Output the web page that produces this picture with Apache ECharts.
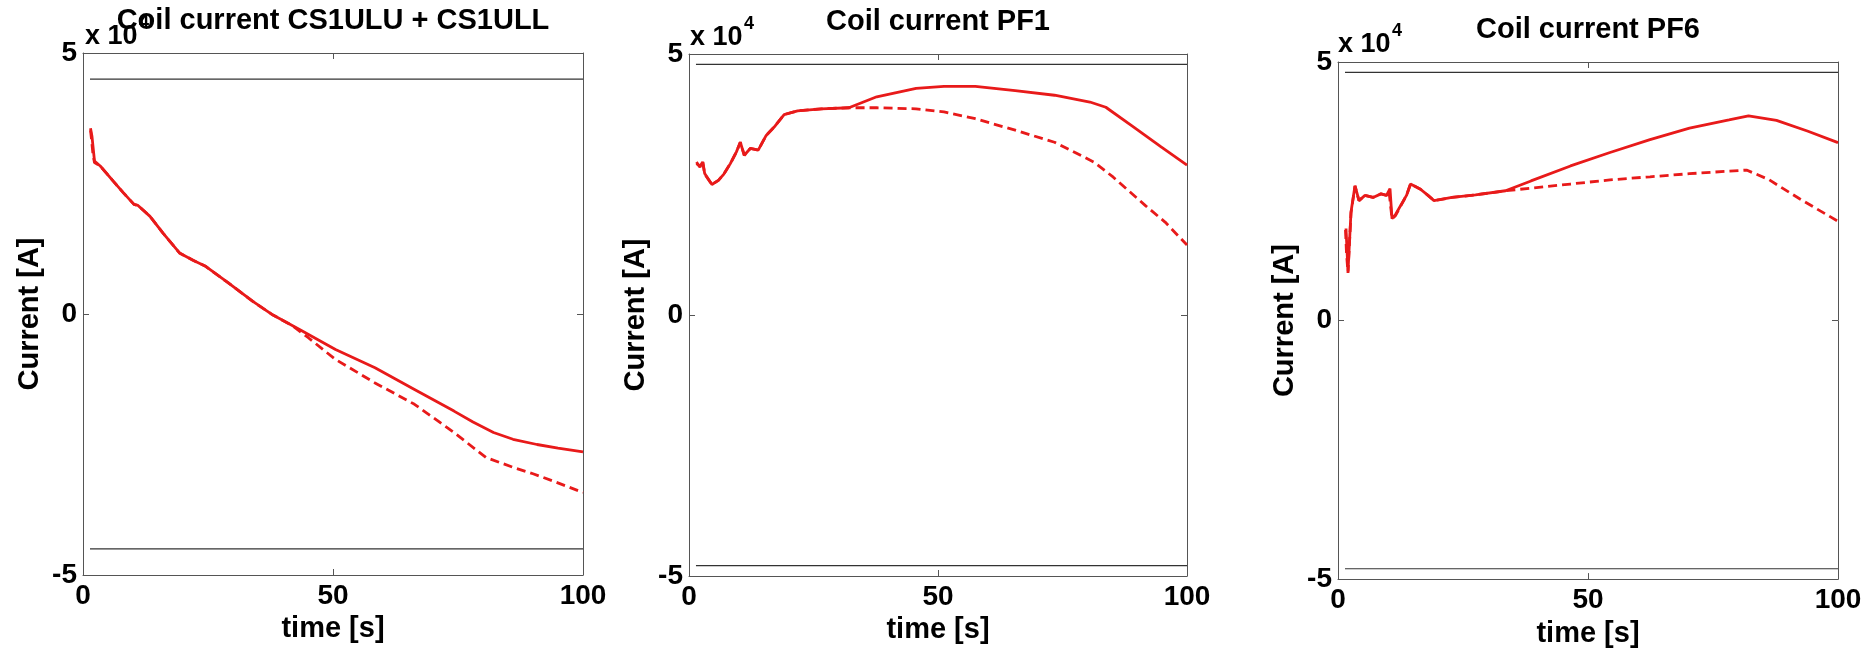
<!DOCTYPE html>
<html><head><meta charset="utf-8">
<script src="https://cdn.jsdelivr.net/npm/echarts@6/dist/echarts.min.js"></script>
<style>html,body{margin:0;padding:0;background:#fff}#c{width:1874px;height:653px}</style>
</head><body><div id="c"></div><script>
// ---------- data (time in s, current in A) ----------
const panelTitles = ['Coil current CS1ULU + CS1ULL', 'Coil current PF1', 'Coil current PF6'];
const xTickLabels = [0, 50, 100];
const yTickLabels = [-5, 0, 5];
const yExponentText = 'x 10';
const yExponent = '4';

const cs1SolidTime = [1.5, 1.8, 2.3, 3.5, 6, 8, 10.2, 11, 13.4, 16, 19.3, 22, 24.4, 29, 33.9, 38, 43.4, 50.5, 58.4, 66.3, 74.2, 78, 82.1, 86, 90.8, 95, 100];
const cs1SolidCurr = [35600, 34000, 29300, 28300, 25500, 23300, 21000, 20800, 18700, 15500, 11700, 10300, 9200, 6000, 2450, -200, -3000, -6800, -10300, -14450, -18600, -20700, -22700, -24000, -25000, -25700, -26400];
const cs1DashTime = [1.5, 1.7, 2.0, 2.3, 3.5, 6, 8, 10.2, 11, 13.4, 16, 19.3, 22, 24.4, 29, 33.9, 38, 41.8, 45, 50.5, 58.4, 66.3, 74.2, 80.6, 86.1, 90, 94, 100];
const cs1DashCurr = [35200, 33500, 30500, 29000, 28300, 25500, 23300, 21000, 20800, 18700, 15500, 11700, 10300, 9200, 6000, 2450, -200, -2200, -4500, -8700, -13200, -17300, -22700, -27500, -29400, -30600, -32000, -34200];
const cs1Limit = [45000, -45000];

const pf1SolidTime = [1.5, 2.2, 2.75, 3.15, 4.6, 5.9, 7, 8.3, 9.5, 10.3, 11.1, 12.3, 13.9, 15.5, 17.1, 19.1, 21.8, 26.6, 32.1, 37.7, 45.6, 51.2, 57.5, 65.5, 73.4, 80.5, 83.7, 89.3, 94.8, 100];
const pf1SolidCurr = [29000, 28500, 29300, 27100, 25000, 25800, 27000, 29000, 31200, 33100, 30600, 31900, 31600, 34400, 36000, 38400, 39100, 39500, 39700, 41800, 43400, 43800, 43800, 43000, 42100, 40800, 39800, 36000, 32200, 28700];
const pf1DashTime = [1.5, 2.2, 2.75, 3.15, 4.6, 5.9, 7, 8.3, 9.5, 10.3, 11.1, 12.3, 13.9, 15.5, 17.1, 19.1, 21.8, 26.6, 32.1, 37.7, 45.6, 51.2, 57.5, 65.5, 73.4, 81.3, 85.2, 91.6, 95.6, 100];
const pf1DashCurr = [29300, 28300, 29500, 27000, 25000, 25800, 27000, 29000, 31200, 33100, 30600, 31900, 31600, 34400, 36000, 38400, 39100, 39500, 39700, 39700, 39500, 38900, 37600, 35400, 33100, 29300, 26400, 21000, 17800, 13400];
const pf1Limit = [48000, -48000];

const pf6SolidTime = [1.6, 2.0, 2.6, 3.4, 4.2, 5.4, 7.0, 8.6, 9.7, 10.4, 10.8, 11.5, 13.7, 14.5, 16.5, 18.0, 19.2, 22.8, 27.5, 33.5, 38.6, 46.5, 54.4, 62.4, 70.3, 78.2, 82.1, 87.7, 94.0, 100];
const pf6SolidCurr = [17800, 9500, 21000, 26100, 23200, 24200, 23800, 24500, 24200, 25500, 19700, 20500, 24200, 26400, 25400, 24200, 23200, 23800, 24300, 25100, 27000, 29900, 32500, 35000, 37200, 38800, 39600, 38700, 36600, 34400];
const pf6DashTime = [1.5, 1.7, 2.0, 2.6, 3.4, 4.2, 5.4, 7.0, 8.6, 9.7, 10.2, 10.8, 11.5, 13.7, 14.5, 16.5, 18.0, 19.2, 22.8, 27.5, 33.5, 38.6, 46.5, 54.4, 62.4, 70.3, 78.2, 81.7, 86.1, 92.4, 100];
const pf6DashCurr = [17500, 13000, 9200, 20800, 26000, 23200, 24200, 23800, 24500, 24200, 25000, 19700, 20300, 24200, 26400, 25400, 24200, 23200, 23800, 24300, 25100, 25600, 26400, 27200, 27800, 28400, 28900, 29100, 27300, 23500, 19200];
const pf6Limit = [48000, -48000];

const limitTime = [1.4, 100];

// ---------- layout / style ----------
const FONT = '"Liberation Sans", Arial, Helvetica, sans-serif';
const RED = '#e81a1a';
const FRAME = '#555';
const grids = [
  {left: 83, top: 53, width: 500, height: 522},
  {left: 689, top: 54, width: 498, height: 522},
  {left: 1338, top: 62, width: 500, height: 522}
];
const titleCenters = [[333, 6], [938, 7], [1588, 15]];
const expPos = [[85, 37], [690, 38], [1338, 45]];

const panels = [
  {solidT: cs1SolidTime, solidV: cs1SolidCurr, dashT: cs1DashTime, dashV: cs1DashCurr, limit: cs1Limit},
  {solidT: pf1SolidTime, solidV: pf1SolidCurr, dashT: pf1DashTime, dashV: pf1DashCurr, limit: pf1Limit},
  {solidT: pf6SolidTime, solidV: pf6SolidCurr, dashT: pf6DashTime, dashV: pf6DashCurr, limit: pf6Limit}
];
const zip = (a, b) => a.map((t, i) => [t, b[i]]);

const labelStyle = {fontSize: 28, fontWeight: 'bold', color: '#000', fontFamily: FONT};
const nameStyle = {fontSize: 29, fontWeight: 'bold', color: '#000', fontFamily: FONT};
const lineStyle = {color: FRAME, width: 1};

const option = {
  animation: false,
  backgroundColor: '#fff',
  title: [], grid: [], xAxis: [], yAxis: [], series: [], graphic: []
};

panels.forEach((p, i) => {
  option.grid.push(Object.assign({containLabel: false}, grids[i]));
  option.title.push({
    text: panelTitles[i], left: titleCenters[i][0], top: titleCenters[i][1], textAlign: 'center', padding: 0,
    textStyle: {fontSize: 29, fontWeight: 'bold', color: '#000', fontFamily: FONT}
  });
  const xBase = {type: 'value', gridIndex: i, min: xTickLabels[0], max: xTickLabels[2], interval: xTickLabels[1] - xTickLabels[0],
    splitLine: {show: false}, axisLine: {show: true, onZero: false, lineStyle},
    axisTick: {show: true, inside: true, length: 6, lineStyle}};
  option.xAxis.push(Object.assign({}, xBase, {position: 'bottom',
    axisLabel: Object.assign({show: true, margin: 7}, labelStyle),
    name: 'time [s]', nameLocation: 'middle', nameGap: 36, nameTextStyle: nameStyle}));
  option.xAxis.push(Object.assign({}, xBase, {position: 'top', axisLabel: {show: false}}));
  const yBase = {type: 'value', gridIndex: i, min: yTickLabels[0] * 10000, max: yTickLabels[2] * 10000, interval: 50000,
    splitLine: {show: false}, axisLine: {show: true, onZero: false, lineStyle},
    axisTick: {show: true, inside: true, length: 6, lineStyle}};
  option.yAxis.push(Object.assign({}, yBase, {position: 'left',
    axisLabel: Object.assign({show: true, margin: 6, formatter: v => String(v / 10000)}, labelStyle),
    name: 'Current [A]', nameLocation: 'middle', nameGap: 39, nameTextStyle: nameStyle}));
  option.yAxis.push(Object.assign({}, yBase, {position: 'right', axisLabel: {show: false}}));

  const xi = i * 2, yi = i * 2;
  p.limit.forEach(l => option.series.push({
    type: 'line', xAxisIndex: xi, yAxisIndex: yi, data: limitTime.map(t => [t, l]),
    showSymbol: false, silent: true, lineStyle: {color: '#333', width: 1.2}
  }));
  option.series.push({
    type: 'line', xAxisIndex: xi, yAxisIndex: yi, data: zip(p.dashT, p.dashV),
    showSymbol: false, lineStyle: {color: RED, width: 2.8, type: [9, 5]}
  });
  option.series.push({
    type: 'line', xAxisIndex: xi, yAxisIndex: yi, data: zip(p.solidT, p.solidV),
    showSymbol: false, lineStyle: {color: RED, width: 2.8}
  });

  option.graphic.push({type: 'text', x: expPos[i][0], y: expPos[i][1], z: 10,
    style: {text: yExponentText, fontSize: 27, fontWeight: 'bold', fontFamily: FONT, fill: '#000', verticalAlign: 'middle', align: 'left'}});
  option.graphic.push({type: 'text', x: expPos[i][0] + 54, y: expPos[i][1] - 14, z: 10,
    style: {text: yExponent, fontSize: 18, fontWeight: 'bold', fontFamily: FONT, fill: '#000', verticalAlign: 'middle', align: 'left'}});
});

const chart = echarts.init(document.getElementById('c'), null, {renderer: 'canvas'});
chart.setOption(option);
</script></body></html>
